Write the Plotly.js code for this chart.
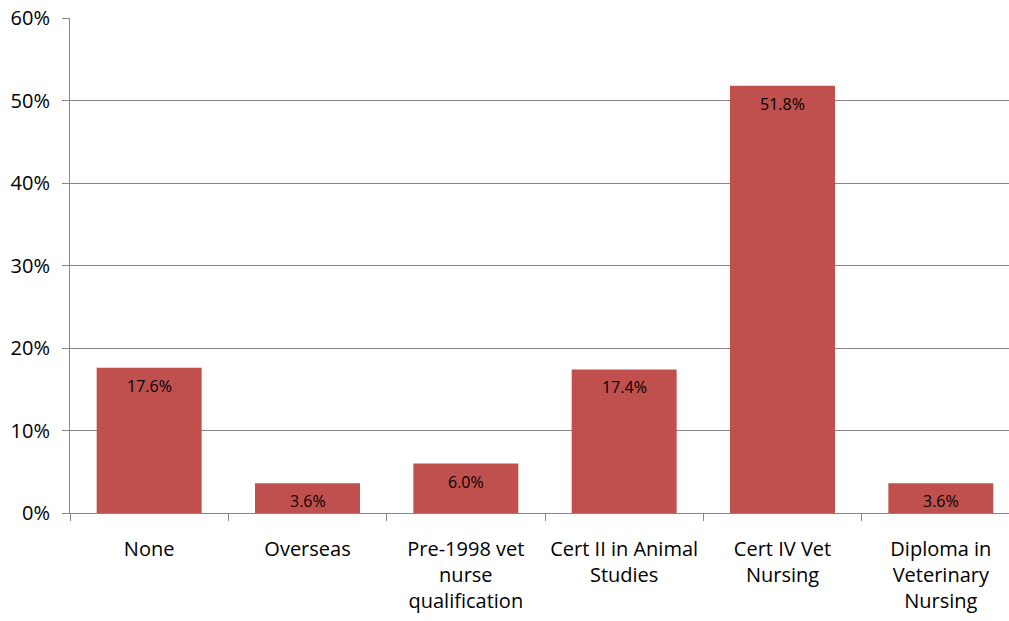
<!DOCTYPE html>
<html>
<head>
<meta charset="utf-8">
<script src="https://cdn.plot.ly/plotly-3.0.1.min.js"></script>
<style>
html,body{margin:0;padding:0;width:1009px;height:621px;overflow:hidden;background:#fff;}
#chart{width:1021px;height:621px;}
</style>
</head>
<body>
<div id="chart"></div>
<script>
const categories = ["None", "Overseas", "Pre-1998 vet<br>nurse<br>qualification", "Cert II in Animal<br>Studies", "Cert IV Vet<br>Nursing", "Diploma in<br>Veterinary<br>Nursing"];
const values = [17.6, 3.6, 6.0, 17.4, 51.8, 3.6];
const labels = ["17.6%", "3.6%", "6.0%", "17.4%", "51.8%", "3.6%"];
const yTickVals = [0, 10, 20, 30, 40, 50, 60];
const yTickText = ["0%", "10%", "20%", "30%", "40%", "50%", "60%"];

const trace = {
  type: 'bar',
  x: categories,
  y: values,
  marker: {color: '#C0504D'},
  hoverinfo: 'none'
};

const annotations = categories.map((c, i) => ({
  x: c, y: values[i], xref: 'x', yref: 'y',
  text: labels[i], showarrow: false,
  yanchor: 'top', yshift: -5,
  font: {family: 'Open Sans, sans-serif', size: 16, color: '#000'}
}));

const layout = {
  width: 1021, height: 621,
  margin: {l: 70, r: 1, t: 18, b: 108},
  paper_bgcolor: '#fff', plot_bgcolor: '#fff',
  showlegend: false,
  bargap: 0.337,
  font: {family: 'Open Sans, sans-serif', size: 20, color: '#000'},
  xaxis: {
    type: 'category',
    tickson: 'boundaries',
    ticks: 'outside', ticklen: 7, tickcolor: '#868686', tickwidth: 1,
    showline: true, linecolor: '#868686', linewidth: 1,
    showgrid: false, zeroline: false,
    tickfont: {family: 'Open Sans, sans-serif', size: 20, color: '#000'},
    ticklabelstandoff: 18,
    tickangle: 0,
    fixedrange: true
  },
  yaxis: {
    range: [0, 60],
    tickvals: yTickVals, ticktext: yTickText,
    ticks: 'outside', ticklen: 7, tickcolor: '#868686', tickwidth: 1,
    showline: true, linecolor: '#868686', linewidth: 1,
    showgrid: true, gridcolor: '#868686', gridwidth: 1,
    zeroline: false,
    tickfont: {family: 'Open Sans, sans-serif', size: 20, color: '#000'},
    ticklabelstandoff: 8,
    fixedrange: true
  },
  annotations: annotations
};

Plotly.newPlot('chart', [trace], layout, {displayModeBar: false, staticPlot: true});
</script>
</body>
</html>
